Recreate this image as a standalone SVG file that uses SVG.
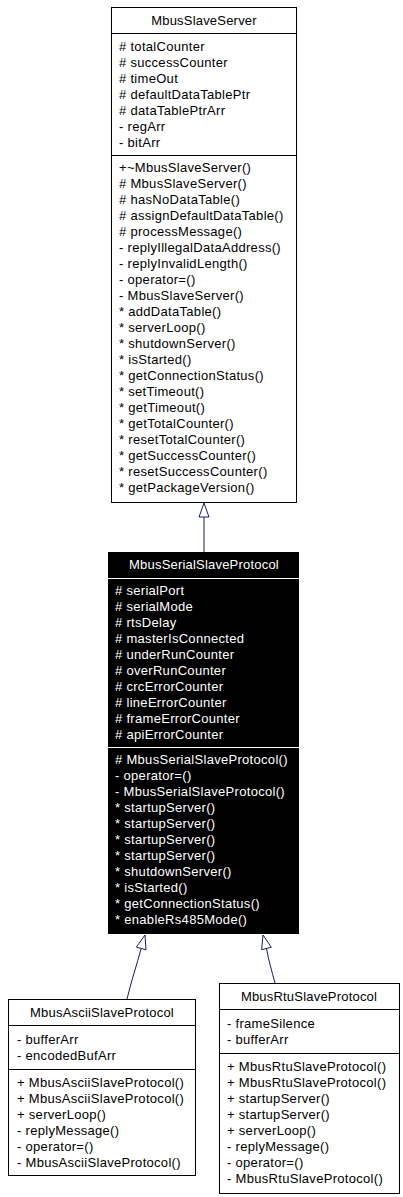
<svg xmlns="http://www.w3.org/2000/svg" width="403" height="1197" viewBox="0 0 403 1197">
<style>
text{font-family:"Liberation Sans",Arial,sans-serif;font-size:13px;fill:#000;letter-spacing:0.3px}
.w text{fill:#fff}
text.h{text-anchor:middle;letter-spacing:0.2px}
.box{fill:#fff;stroke:#000;stroke-width:1}
.sep{stroke:#000;stroke-width:1}
.bsep{stroke:#fff;stroke-width:1}
.edge{fill:none;stroke:#191970;stroke-width:1}
.ah{fill:#fff;stroke:#191970;stroke-width:1}
</style>
<rect width="403" height="1197" fill="#fff"/>
<g id="MbusSlaveServer">
<rect class="box" x="111.5" y="7.5" width="185" height="495"/>
<line class="sep" x1="111.5" y1="33.5" x2="296.5" y2="33.5"/>
<line class="sep" x1="111.5" y1="155.5" x2="296.5" y2="155.5"/>
<text class="h" x="204" y="25">MbusSlaveServer</text>
<text x="119" y="51"># totalCounter</text>
<text x="119" y="67"># successCounter</text>
<text x="119" y="83"># timeOut</text>
<text x="119" y="99"># defaultDataTablePtr</text>
<text x="119" y="115"># dataTablePtrArr</text>
<text x="119" y="131">- regArr</text>
<text x="119" y="147">- bitArr</text>
<text x="119" y="172">+~MbusSlaveServer()</text>
<text x="119" y="188"># MbusSlaveServer()</text>
<text x="119" y="204"># hasNoDataTable()</text>
<text x="119" y="220"># assignDefaultDataTable()</text>
<text x="119" y="236"># processMessage()</text>
<text x="119" y="252">- replyIllegalDataAddress()</text>
<text x="119" y="268">- replyInvalidLength()</text>
<text x="119" y="284">- operator=()</text>
<text x="119" y="300">- MbusSlaveServer()</text>
<text x="119" y="316">* addDataTable()</text>
<text x="119" y="332">* serverLoop()</text>
<text x="119" y="348">* shutdownServer()</text>
<text x="119" y="364">* isStarted()</text>
<text x="119" y="380">* getConnectionStatus()</text>
<text x="119" y="396">* setTimeout()</text>
<text x="119" y="412">* getTimeout()</text>
<text x="119" y="428">* getTotalCounter()</text>
<text x="119" y="444">* resetTotalCounter()</text>
<text x="119" y="460">* getSuccessCounter()</text>
<text x="119" y="476">* resetSuccessCounter()</text>
<text x="119" y="492">* getPackageVersion()</text>
</g>
<g id="MbusSerialSlaveProtocol" class="w">
<rect x="108" y="552" width="191" height="382" fill="#000"/>
<line class="bsep" x1="108" y1="578.5" x2="299" y2="578.5"/>
<line class="bsep" x1="108" y1="747.5" x2="299" y2="747.5"/>
<text class="h" x="204" y="569">MbusSerialSlaveProtocol</text>
<text x="115" y="595"># serialPort</text>
<text x="115" y="611"># serialMode</text>
<text x="115" y="627"># rtsDelay</text>
<text x="115" y="643"># masterIsConnected</text>
<text x="115" y="659"># underRunCounter</text>
<text x="115" y="675"># overRunCounter</text>
<text x="115" y="691"># crcErrorCounter</text>
<text x="115" y="707"># lineErrorCounter</text>
<text x="115" y="723"># frameErrorCounter</text>
<text x="115" y="739"># apiErrorCounter</text>
<text x="115" y="764"># MbusSerialSlaveProtocol()</text>
<text x="115" y="780">- operator=()</text>
<text x="115" y="796">- MbusSerialSlaveProtocol()</text>
<text x="115" y="812">* startupServer()</text>
<text x="115" y="828">* startupServer()</text>
<text x="115" y="844">* startupServer()</text>
<text x="115" y="860">* startupServer()</text>
<text x="115" y="876">* shutdownServer()</text>
<text x="115" y="892">* isStarted()</text>
<text x="115" y="908">* getConnectionStatus()</text>
<text x="115" y="924">* enableRs485Mode()</text>
</g>
<g id="MbusAsciiSlaveProtocol">
<rect class="box" x="8.5" y="999.5" width="187" height="176"/>
<line class="sep" x1="8.5" y1="1025.5" x2="195.5" y2="1025.5"/>
<line class="sep" x1="8.5" y1="1069.5" x2="195.5" y2="1069.5"/>
<text class="h" x="102" y="1017">MbusAsciiSlaveProtocol</text>
<text x="17" y="1044">- bufferArr</text>
<text x="17" y="1060">- encodedBufArr</text>
<text x="17" y="1087">+ MbusAsciiSlaveProtocol()</text>
<text x="17" y="1103">+ MbusAsciiSlaveProtocol()</text>
<text x="17" y="1119">+ serverLoop()</text>
<text x="17" y="1135">- replyMessage()</text>
<text x="17" y="1151">- operator=()</text>
<text x="17" y="1167">- MbusAsciiSlaveProtocol()</text>
</g>
<g id="MbusRtuSlaveProtocol">
<rect class="box" x="219.5" y="983.5" width="180" height="210"/>
<line class="sep" x1="219.5" y1="1009.5" x2="399.5" y2="1009.5"/>
<line class="sep" x1="219.5" y1="1053.5" x2="399.5" y2="1053.5"/>
<text class="h" x="309" y="1001">MbusRtuSlaveProtocol</text>
<text x="227" y="1028">- frameSilence</text>
<text x="227" y="1044">- bufferArr</text>
<text x="227" y="1071">+ MbusRtuSlaveProtocol()</text>
<text x="227" y="1087">+ MbusRtuSlaveProtocol()</text>
<text x="227" y="1103">+ startupServer()</text>
<text x="227" y="1119">+ startupServer()</text>
<text x="227" y="1135">+ serverLoop()</text>
<text x="227" y="1151">- replyMessage()</text>
<text x="227" y="1167">- operator=()</text>
<text x="227" y="1183">- MbusRtuSlaveProtocol()</text>
</g>
<g id="connectors">
<path class="edge" d="M204,552 L204,517"/>
<polygon class="ah" points="204,503 209,517 199,517"/>
<path class="edge" d="M127,999 C131,982 137,964 141.2,948.5"/>
<polygon class="ah" points="145,935 146,949.8 136.4,947.1"/>
<path class="edge" d="M275,983 C272,972 268.5,960 266.5,948.5"/>
<polygon class="ah" points="263,935 271.3,947.2 261.6,949.7"/>
</g>
</svg>
